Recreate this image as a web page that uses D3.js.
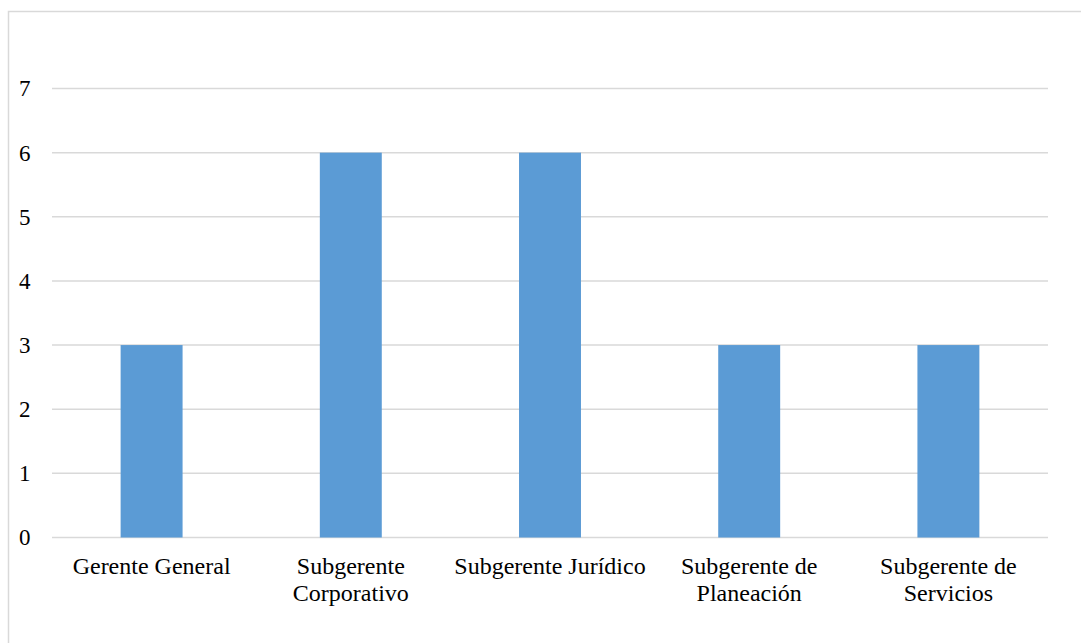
<!DOCTYPE html>
<html>
<head>
<meta charset="utf-8">
<script src="https://cdn.jsdelivr.net/npm/d3@7"></script>
<style>
  html, body { margin: 0; padding: 0; background: #ffffff; }
  svg { display: block; }
</style>
</head>
<body>
<svg id="chart" width="1081" height="643"></svg>
<script>
const categories = ["Gerente General", "Subgerente Corporativo", "Subgerente Jurídico", "Subgerente de Planeación", "Subgerente de Servicios"];
const values = [3, 6, 6, 3, 3];
const yTicks = [0, 1, 2, 3, 4, 5, 6, 7];

(function () {
const FONT = "'Liberation Serif', 'Times New Roman', Tinos, 'DejaVu Serif', serif";
const plotLeft = 52, plotRight = 1048, plotTop = 88.5, plotBottom = 537.5;
const svg = d3.select("#chart");

svg.append("rect")
  .attr("x", 8.5).attr("y", 11.5)
  .attr("width", 1200).attr("height", 800)
  .attr("fill", "none").attr("stroke", "#d9d9d9").attr("stroke-width", 1.5);

const x = d3.scaleBand().domain(categories).range([plotLeft, plotRight])
  .paddingInner(0.689).paddingOuter(0.3445);
const y = d3.scaleLinear().domain([0, 7]).range([plotBottom, plotTop]);

svg.append("g").selectAll("line").data(yTicks).join("line")
  .attr("x1", plotLeft).attr("x2", plotRight)
  .attr("y1", d => y(d)).attr("y2", d => y(d))
  .attr("stroke", "#d9d9d9").attr("stroke-width", 1.5);

const yAxis = d3.axisLeft(y).tickValues(yTicks).tickSize(0).tickPadding(0).tickFormat(d3.format("d"));
const yg = svg.append("g").attr("transform", `translate(30.5,0)`).call(yAxis)
  .attr("font-family", null).style("font-family", FONT).attr("font-size", 23);
yg.select(".domain").remove();
yg.selectAll("text").style("font-family", FONT).style("font-size", "23px").attr("fill", "#000");

svg.append("g").selectAll("rect").data(values).join("rect")
  .attr("x", (d, i) => x(categories[i]))
  .attr("width", x.bandwidth())
  .attr("y", d => y(d))
  .attr("height", d => y(0) - y(d))
  .attr("fill", "#5b9bd5");

const xAxis = d3.axisBottom(x).tickSize(0).tickPadding(0);
const xg = svg.append("g").attr("transform", `translate(0,${plotBottom})`).call(xAxis)
  .attr("font-family", null).style("font-family", FONT).attr("font-size", 24);
xg.select(".domain").remove();
const maxW = x.step();
xg.selectAll("text")
  .style("font-family", FONT).style("font-size", "24px").attr("fill", "#000")
  .attr("dy", null).attr("y", 0)
  .each(function(label) {
    const t = d3.select(this);
    t.text(null);
    const words = label.split(" ");
    let lines = [], cur = [];
    const probe = t.append("tspan");
    for (const w of words) {
      const test = cur.concat(w).join(" ");
      probe.text(test);
      if (probe.node().getComputedTextLength() > maxW - 4 && cur.length) {
        lines.push(cur.join(" "));
        cur = [w];
      } else cur.push(w);
    }
    lines.push(cur.join(" "));
    probe.remove();
    lines.forEach((ln, i) => {
      t.append("tspan").attr("x", 0).attr("y", 36 + i * 27.5).text(ln);
    });
  });
})();
</script>
</body>
</html>
